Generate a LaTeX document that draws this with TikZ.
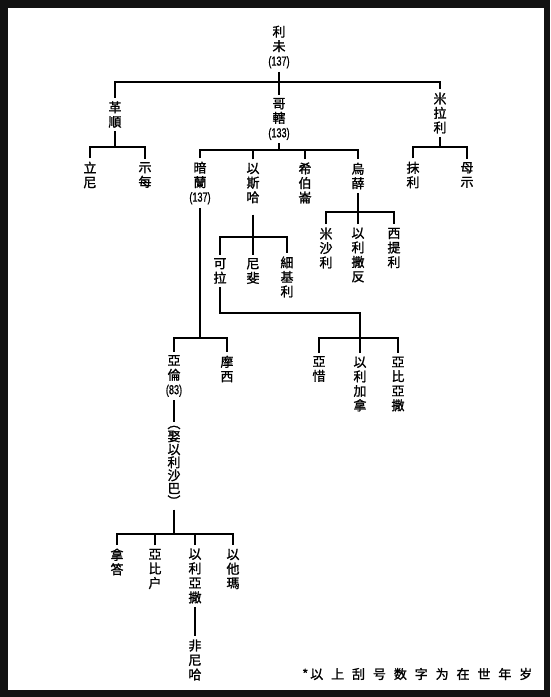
\documentclass[tikz,border=0pt]{standalone}
\usepackage{graphicx}
\usepackage{fontspec}
\newfontfamily\cjk[FakeBold=1.3]{Noto Sans CJK TC}
\newfontfamily\numfont[FakeBold=1]{Liberation Sans}
\newcommand{\yr}[1]{\scalebox{0.7}[1]{\numfont\fontsize{13}{14.5}\selectfont (#1)}}
\newcommand{\notegap}{\hspace{7.9pt}}
\begin{document}
\begin{tikzpicture}[x=1pt,y=-1pt,
  nm/.style={font=\cjk\fontsize{13}{14.5}\selectfont,align=center,inner sep=0pt,outer sep=3.5pt},
  ln/.style={line width=1.8pt}]
\useasboundingbox (0,0) rectangle (550,697);
\fill[black!93] (0,0) rectangle (550,697);
\fill[white] (8,8) rectangle (544,690);

% people
\node[nm] (levi) at (279,47) {利\\未\\\yr{137}};
\node[nm] (kohath) at (279,119) {哥\\轄\\\yr{133}};
\node[nm] (gershon) at (115,114.5) {革\\順};
\node[nm] (merari) at (440,113) {米\\拉\\利};
\node[nm] (libni) at (90,175) {立\\尼};
\node[nm] (shimei) at (145,175) {示\\每};
\node[nm] (mahli) at (413,175) {抹\\利};
\node[nm] (mushi) at (467,175) {母\\示};
\node[nm] (amram) at (200,183) {暗\\蘭\\\yr{137}};
\node[nm] (izhar) at (253,183) {以\\斯\\哈};
\node[nm] (hebron) at (305,183) {希\\伯\\崙};
\node[nm] (uzziel) at (358,176) {烏\\薛};
\node[nm] (korah) at (220,271) {可\\拉};
\node[nm] (nepheg) at (253,271) {尼\\斐};
\node[nm] (zichri) at (287,277) {細\\基\\利};
\node[nm] (mishael) at (326,248) {米\\沙\\利};
\node[nm] (elzaphan) at (358,255) {以\\利\\撒\\反};
\node[nm] (sithri) at (394,248) {西\\提\\利};
\node[nm] (aaron) at (174,376) {亞\\倫\\\yr{83}};
\node[nm] (moses) at (227,369) {摩\\西};
\node[nm] (assir) at (319,369) {亞\\惜};
\node[nm] (elkanah) at (360,384) {以\\利\\加\\拿};
\node[nm] (abiasaph) at (398,384) {亞\\比\\亞\\撒};
\node[nm,font=\cjk\fontsize{13}{13}\selectfont] (marry) at (174,466) {︵\\娶\\以\\利\\沙\\巴\\︶};
\node[nm] (nadab) at (117,562) {拿\\答};
\node[nm] (abihu) at (155,569) {亞\\比\\户};
\node[nm] (eleazar) at (195,576) {以\\利\\亞\\撒};
\node[nm] (ithamar) at (233,569) {以\\他\\瑪};
\node[nm] (phinehas) at (195,660) {非\\尼\\哈};
\node[font=\cjk\fontsize{13}{14}\selectfont,inner sep=0pt,anchor=west] (note) at (302,674)
  {*\hspace{2pt}以\notegap 上\notegap 刮\notegap 号\notegap 数\notegap 字\notegap 为\notegap 在\notegap 世\notegap 年\notegap 岁};

% junctions
\coordinate (leviBar) at (279,82);
\coordinate (gerBar) at (115,147);
\coordinate (merBar) at (440,147);
\coordinate (kohBar) at (279,150);
\coordinate (izBar) at (253,237);
\coordinate (uzBar) at (358,212);
\coordinate (amBar) at (200,338);
\coordinate (korTurn) at (360,313);
\coordinate (korBar) at (360,338);
\coordinate (aaBar) at (174,534);

% connectors
\draw[ln] (levi) -- (kohath);
\draw[ln] (gershon.north) |- (leviBar) -| (merari.north);

\draw[ln] (gershon.south) -- (gerBar);
\draw[ln] (libni.north) |- (gerBar) -| (shimei.north);

\draw[ln] (merari.south) -- (merBar);
\draw[ln] (mahli.north) |- (merBar) -| (mushi.north);

\draw[ln] (kohath.south) -- (kohBar);
\draw[ln] (amram.north) |- (kohBar) -| (uzziel.north);
\draw[ln] (izhar.north) -- (izhar.north |- kohBar);
\draw[ln] (hebron.north) -- (hebron.north |- kohBar);

\draw[ln,shorten <=8pt] (izhar.south) -- (izBar);
\draw[ln] (korah.north) |- (izBar) -| (zichri.north);
\draw[ln] (nepheg.north) -- (izBar);

\draw[ln] (uzziel.south) -- (uzBar);
\draw[ln] (mishael.north) |- (uzBar) -| (sithri.north);
\draw[ln] (elzaphan.north) -- (uzBar);

\draw[ln] (amram.south) -- (amBar);
\draw[ln] (aaron.north) |- (amBar) -| (moses.north);

\draw[ln] (korah.south) |- (korTurn) -- (korBar);
\draw[ln] (assir.north) |- (korBar) -| (abiasaph.north);
\draw[ln] (elkanah.north) -- (korBar);

\draw[ln] (aaron) -- (marry);
\draw[ln] (marry.south) -- (aaBar);
\draw[ln] (nadab.north) |- (aaBar) -| (ithamar.north);
\draw[ln] (abihu.north) -- (abihu.north |- aaBar);
\draw[ln] (eleazar.north) -- (eleazar.north |- aaBar);
\draw[ln] (eleazar) -- (phinehas);
\end{tikzpicture}
\end{document}
